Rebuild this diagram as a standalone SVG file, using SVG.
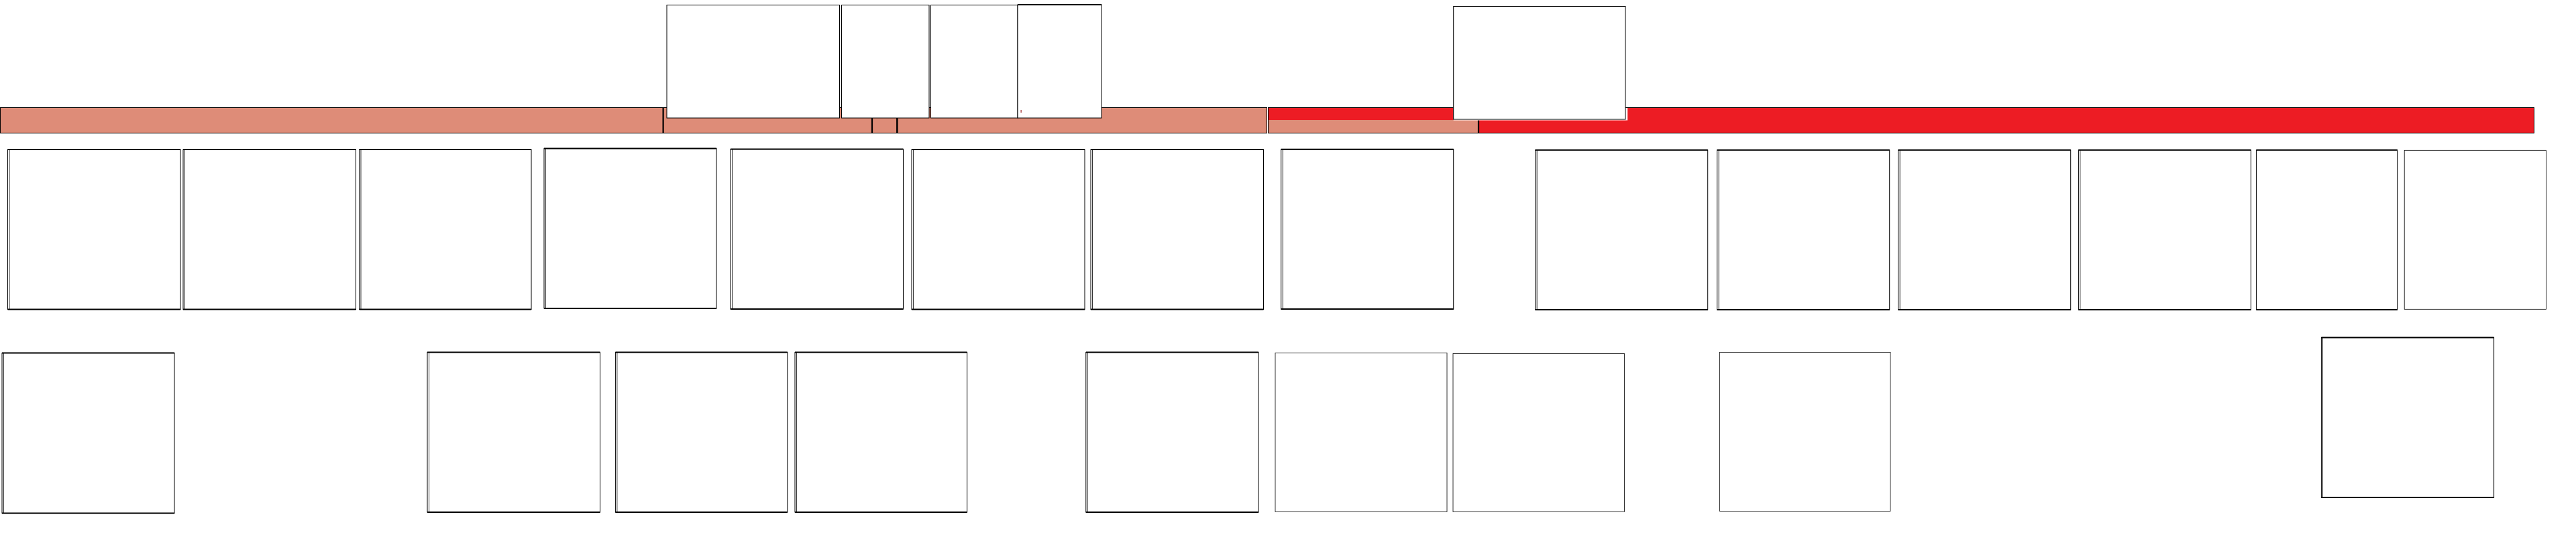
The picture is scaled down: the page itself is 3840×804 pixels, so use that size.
<svg xmlns="http://www.w3.org/2000/svg" width="3840" height="804" viewBox="0 0 3840 804">
<style>
.sal{fill:#DE8C78;stroke:#000;stroke-width:1}
.red{fill:#ED1C24;stroke:none}
.redb{fill:#ED1C24;stroke:#000;stroke-width:1}
.div{stroke:#000;stroke-width:2.2}
.box{fill:#fff;stroke:#000;stroke-width:1}
.thin{fill:#fff;stroke:#000;stroke-width:0.8}
.tb{stroke:#000;stroke-width:2}
.in{stroke:#000;stroke-width:0.8}
</style>
<rect width="3840" height="804" fill="#fff"/>
<g id="bar">
<rect class="sal" x="0.5" y="160.5" width="988" height="38"/>
<rect class="sal" x="988.5" y="160.5" width="311.5" height="38"/>
<rect class="sal" x="1300" y="160.5" width="37" height="38"/>
<rect class="sal" x="1337" y="160.5" width="551.5" height="38"/>
<rect class="sal" x="1890.5" y="160.5" width="313.5" height="38"/>
<rect class="red" x="1891" y="161" width="276" height="18"/>
<rect class="redb" x="2204" y="160.5" width="1573.5" height="38"/>
<line class="div" x1="988.6" y1="160" x2="988.6" y2="199"/>
<line class="div" x1="1300" y1="176" x2="1300" y2="199"/>
<line class="div" x1="1337.5" y1="176" x2="1337.5" y2="199"/>
<line class="div" x1="2204" y1="178" x2="2204" y2="199"/>
</g>
<g id="top-nodes">
<g id="nA"><rect class="box" x="994" y="7.5" width="257.5" height="168.5"/></g>
<g id="nB"><rect class="box" x="1254.5" y="7.5" width="130.5" height="168.5"/></g>
<g id="nC"><rect class="box" x="1387.5" y="7.5" width="129.5" height="168.5"/></g>
<g id="nD"><rect class="box" x="1517" y="7" width="125" height="169"/><line class="tb" x1="1517" y1="7" x2="1642" y2="7"/><rect x="1521.6" y="164" width="1" height="4" fill="#8B0000"/></g>
<g id="nE"><rect fill="#fff" x="2166.7" y="161" width="259.5" height="18.5"/><rect class="box" x="2166.7" y="9.5" width="256.3" height="168.5"/></g>
</g>
<g id="row1">
<g id="r1"><rect class="box" x="11.5" y="223" width="257.5" height="238.5"/><line class="tb" x1="11.5" y1="223" x2="269" y2="223"/><line class="tb" x1="11.5" y1="461.5" x2="269" y2="461.5"/><line class="in" x1="14" y1="223" x2="14" y2="461"/></g>
<g id="r2"><rect class="box" x="273" y="223" width="257.5" height="238.5"/><line class="tb" x1="273" y1="223" x2="530.5" y2="223"/><line class="tb" x1="273" y1="461.5" x2="530.5" y2="461.5"/><line class="in" x1="275.5" y1="223" x2="275.5" y2="461"/></g>
<g id="r3"><rect class="box" x="535.7" y="223" width="256.3" height="238.5"/><line class="tb" x1="535.7" y1="223" x2="792" y2="223"/><line class="tb" x1="535.7" y1="461.5" x2="792" y2="461.5"/><line class="in" x1="538" y1="223" x2="538" y2="461"/></g>
<g id="r4"><rect class="box" x="811" y="221.5" width="257" height="238.5"/><line class="tb" x1="811" y1="221.5" x2="1068" y2="221.5"/><line class="tb" x1="811" y1="460" x2="1068" y2="460"/><line class="in" x1="813.5" y1="221.5" x2="813.5" y2="460"/></g>
<g id="r5"><rect class="box" x="1089" y="222.5" width="257.5" height="238.5"/><line class="tb" x1="1089" y1="222.5" x2="1346.5" y2="222.5"/><line class="tb" x1="1089" y1="461" x2="1346.5" y2="461"/><line class="in" x1="1091.5" y1="222.5" x2="1091.5" y2="461"/></g>
<g id="r6"><rect class="box" x="1359" y="223" width="258" height="238.5"/><line class="tb" x1="1359" y1="223" x2="1617" y2="223"/><line class="tb" x1="1359" y1="461.5" x2="1617" y2="461.5"/><line class="in" x1="1361.5" y1="223" x2="1361.5" y2="461"/></g>
<g id="r7"><rect class="box" x="1626" y="223" width="257.5" height="238.5"/><line class="tb" x1="1626" y1="223" x2="1883.5" y2="223"/><line class="tb" x1="1626" y1="461.5" x2="1883.5" y2="461.5"/><line class="in" x1="1628.5" y1="223" x2="1628.5" y2="461"/></g>
<g id="r8"><rect class="box" x="1909.7" y="222.7" width="257" height="238.5"/><line class="tb" x1="1909.7" y1="222.7" x2="2166.7" y2="222.7"/><line class="tb" x1="1909.7" y1="461" x2="2166.7" y2="461"/><line class="in" x1="1912.2" y1="223" x2="1912.2" y2="461"/></g>
<g id="r9"><rect class="box" x="2288.7" y="223.7" width="257" height="238.5"/><line class="tb" x1="2288.7" y1="223.7" x2="2545.7" y2="223.7"/><line class="tb" x1="2288.7" y1="462" x2="2545.7" y2="462"/><line class="in" x1="2291.2" y1="224" x2="2291.2" y2="462"/></g>
<g id="r10"><rect class="box" x="2559.7" y="223.7" width="257" height="238.5"/><line class="tb" x1="2559.7" y1="223.7" x2="2816.7" y2="223.7"/><line class="tb" x1="2559.7" y1="462" x2="2816.7" y2="462"/><line class="in" x1="2562.2" y1="224" x2="2562.2" y2="462"/></g>
<g id="r11"><rect class="box" x="2829.7" y="223.7" width="257" height="238.5"/><line class="tb" x1="2829.7" y1="223.7" x2="3086.7" y2="223.7"/><line class="tb" x1="2829.7" y1="462" x2="3086.7" y2="462"/><line class="in" x1="2832.2" y1="224" x2="2832.2" y2="462"/></g>
<g id="r12"><rect class="box" x="3098.4" y="223.7" width="257" height="238.5"/><line class="tb" x1="3098.4" y1="223.7" x2="3355.4" y2="223.7"/><line class="tb" x1="3098.4" y1="462" x2="3355.4" y2="462"/><line class="in" x1="3100.9" y1="224" x2="3100.9" y2="462"/></g>
<g id="r13"><rect class="box" x="3363.6" y="223.7" width="210" height="238.5"/><line class="tb" x1="3363.6" y1="223.7" x2="3573.6" y2="223.7"/><line class="tb" x1="3363.6" y1="462" x2="3573.6" y2="462"/></g>
<g id="r14"><rect class="thin" x="3584.2" y="224.3" width="211.3" height="237"/></g>
</g>
<g id="row2">
<g id="s1"><rect class="box" x="3" y="526.5" width="257" height="239"/><line class="tb" x1="3" y1="526.5" x2="260" y2="526.5"/><line class="tb" x1="3" y1="765.5" x2="260" y2="765.5"/><line class="in" x1="5.5" y1="527" x2="5.5" y2="765"/></g>
<g id="s2"><rect class="box" x="637" y="525.5" width="257.5" height="238.5"/><line class="tb" x1="637" y1="525.5" x2="894.5" y2="525.5"/><line class="tb" x1="637" y1="764" x2="894.5" y2="764"/><line class="in" x1="639.5" y1="526" x2="639.5" y2="764"/></g>
<g id="s3"><rect class="box" x="917.4" y="525.5" width="256.4" height="238.5"/><line class="tb" x1="917.4" y1="525.5" x2="1173.8" y2="525.5"/><line class="tb" x1="917.4" y1="764" x2="1173.8" y2="764"/><line class="in" x1="919.9" y1="526" x2="919.9" y2="764"/></g>
<g id="s4"><rect class="box" x="1185" y="525.5" width="256.6" height="238.5"/><line class="tb" x1="1185" y1="525.5" x2="1441.6" y2="525.5"/><line class="tb" x1="1185" y1="764" x2="1441.6" y2="764"/><line class="in" x1="1187.5" y1="526" x2="1187.5" y2="764"/></g>
<g id="s5"><rect class="box" x="1618.8" y="525.5" width="257.2" height="238.5"/><line class="tb" x1="1618.8" y1="525.5" x2="1876" y2="525.5"/><line class="tb" x1="1618.8" y1="764" x2="1876" y2="764"/><line class="in" x1="1621.3" y1="526" x2="1621.3" y2="764"/></g>
<g id="s6"><rect class="thin" x="1901" y="526.5" width="256" height="237"/></g>
<g id="s7"><rect class="thin" x="2166" y="527.5" width="255.5" height="236"/></g>
<g id="s8"><rect class="thin" x="2563.5" y="525.5" width="254.5" height="237"/></g>
<g id="s9"><rect class="box" x="3460.4" y="503.5" width="257.2" height="239"/><line class="tb" x1="3460.4" y1="503.5" x2="3717.6" y2="503.5"/><line class="tb" x1="3460.4" y1="742" x2="3717.6" y2="742"/><line class="in" x1="3462.5" y1="504" x2="3462.5" y2="742"/></g>
</g>
<g id="connectors"></g>
</svg>
